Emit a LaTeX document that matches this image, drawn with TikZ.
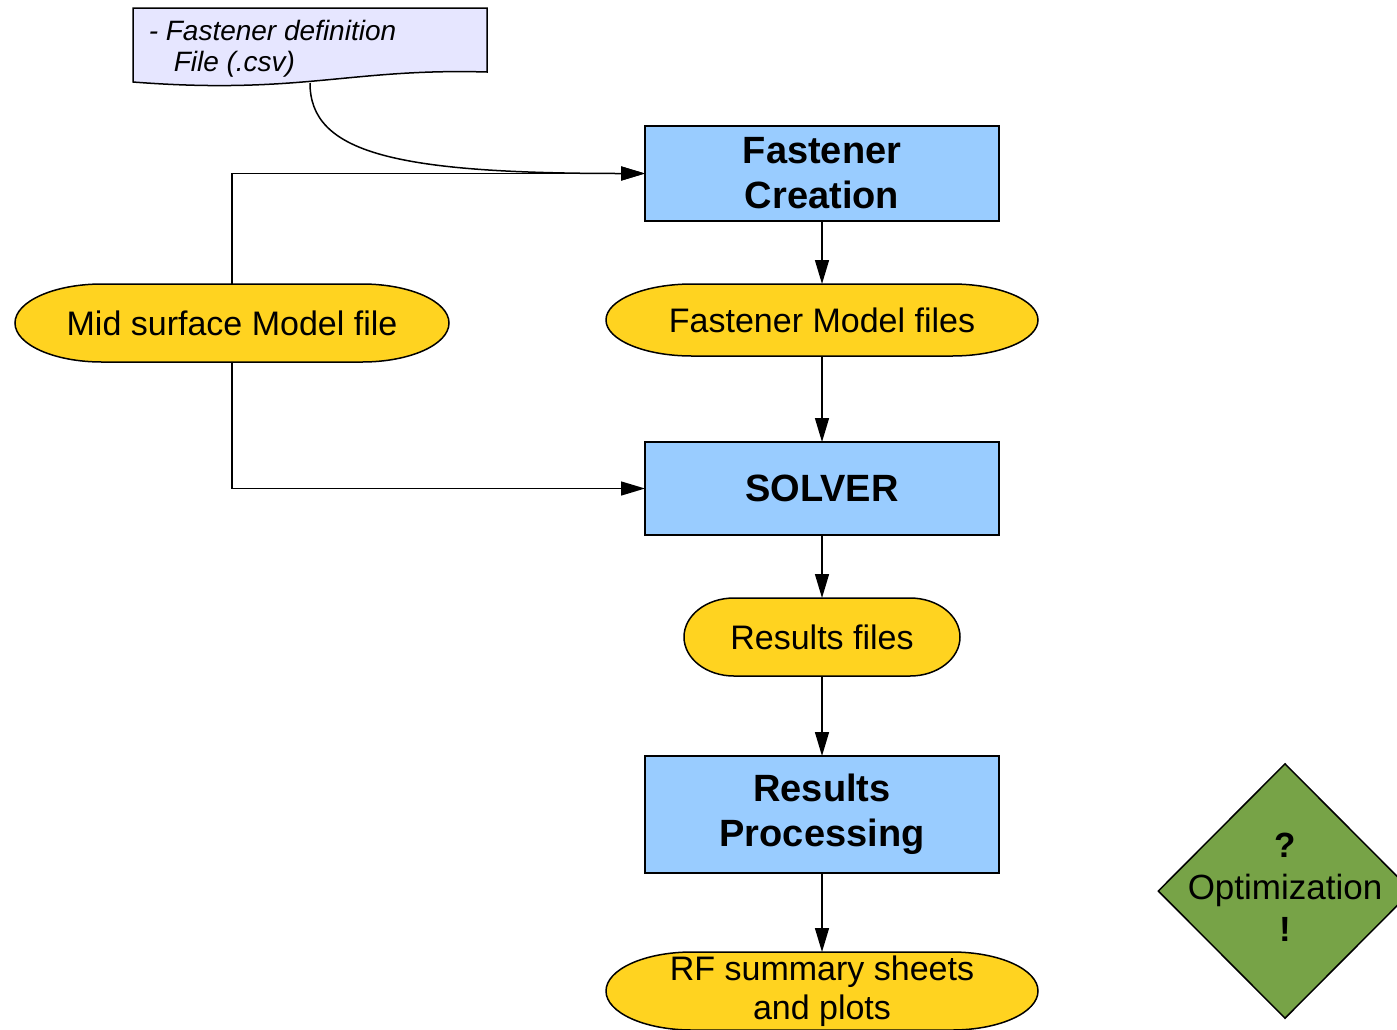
\documentclass[tikz,border=0pt]{standalone}
\usepackage{fontspec}
\setmainfont{Liberation Sans}
\usetikzlibrary{arrows.meta,shapes.geometric,backgrounds}
\definecolor{procblue}{HTML}{99CCFF}
\definecolor{fileyellow}{HTML}{FFD320}
\definecolor{doclilac}{HTML}{E6E6FF}
\definecolor{optgreen}{HTML}{77A347}

\begin{document}
\begin{tikzpicture}[
        x=1pt, y=-1pt,
        >={Triangle[length=24pt,width=14pt]},
        line width=1.5pt,
        process/.style={draw, fill=procblue, minimum width=354pt, inner sep=0pt, outer sep=0pt,
            align=center, font=\fontsize{38}{45}\selectfont\bfseries},
        datafile/.style={inner sep=0pt, outer sep=0pt, align=center, font=\fontsize{34}{39}\selectfont},
        termfill/.style={draw, line width=1.5pt, fill=fileyellow}
        ]
            \useasboundingbox (0,0) rectangle (1397,1029);

            % Input file
            \node[inner sep=0pt, align=left, font=\fontsize{28}{31}\selectfont\itshape,
                  anchor=north west] (csv) at (148,19) {- Fastener definition\\\hspace*{25pt}File (.csv)};
            \coordinate (csvout) at (310,83);

            % Process boxes
            \node[process, minimum height=95pt] (create) at (822,173.5) {Fastener\\Creation};
            \node[process, minimum height=93pt] (solver) at (822,488.5) {SOLVER};
            \node[process, minimum height=117pt] (post) at (822,814.5) {Results\\Processing};

            % Files
            \node[datafile, minimum width=434pt, minimum height=78pt] (mid) at (232,323) {Mid surface Model file};
            \node[datafile, minimum width=432pt, minimum height=72pt] (fmf) at (822,320) {Fastener Model files};
            \node[datafile, minimum width=276pt, minimum height=78pt] (res) at (822,637) {Results files};
            \node[datafile, minimum width=432pt, minimum height=78pt] (rf) at (822,991) {RF summary sheets\\and plots};

            % Optimization
            \node[draw, fill=optgreen, shape=diamond, minimum width=254pt, minimum height=255pt, inner sep=0pt,
                  font=\fontsize{35}{42}\selectfont] (opt) at (1285,891)
                  {\makebox[0pt]{\begin{tabular}{@{}c@{}}\textbf{?}\\Optimization\\\textbf{!}\end{tabular}}};

            \begin{scope}[on background layer]
                \draw[fill=doclilac, line width=1.5pt] (133,8) -- (487,8) -- (487,72)
                    .. controls (350,68) and (300,95) .. (133,82) -- cycle;
                \foreach \n/\r/\h in {mid/87/39, fmf/86/36, res/50/39, rf/86/39}
                    \draw[termfill] ([xshift=\r pt]\n.north west) -- ([xshift=-\r pt]\n.north east)
                        arc[start angle=90, end angle=-90, x radius=\r pt, y radius=\h pt]
                        -- ([xshift=\r pt]\n.south west)
                        arc[start angle=270, end angle=90, x radius=\r pt, y radius=\h pt] -- cycle;
            \end{scope}

            % Connectors
            \draw[->] (csvout) .. controls +(0,70) and +(-250,0) .. (create.west);
            \draw[->] (mid.north) |- (create.west);
            \draw[->] (mid.south) |- (solver.west);
            \draw[->] (create) -- (fmf);
            \draw[->] (fmf) -- (solver);
            \draw[->] (solver) -- (res);
            \draw[->] (res) -- (post);
            \draw[->] (post) -- (rf);
        \end{tikzpicture}
\end{document}
